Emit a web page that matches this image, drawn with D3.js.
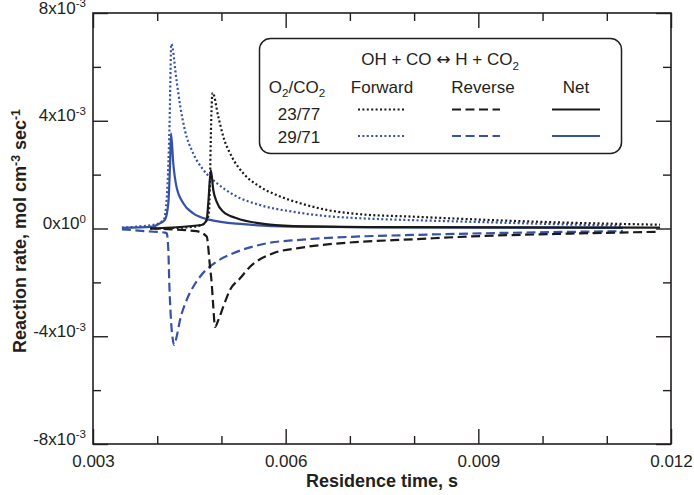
<!DOCTYPE html>
<html>
<head>
<meta charset="utf-8">
<script src="https://cdn.jsdelivr.net/npm/d3@7"></script>
<style>
  body { margin: 0; background: #fff; }
  svg text { font-family: Arial, "Liberation Sans", Helvetica, sans-serif; fill: #231f20; }
</style>
</head>
<body>
<svg id="chart" width="694" height="495"></svg>
<script>
// Residence time (s) and reaction rate (x10^-3 mol cm^-3 sec^-1)

// O2/CO2 = 23/77 (black)
var time23Fwd = [0.00389, 0.00451, 0.00469, 0.00477, 0.004805, 0.004822, 0.004837, 0.004862, 0.004951, 0.005029, 0.00516, 0.00534, 0.00560, 0.00586, 0.006223, 0.006639, 0.007158, 0.00798, 0.00903, 0.01007, 0.01183];
var rate23Fwd = [0.0, 0.05, 0.13, 0.3, 0.6, 1.8, 3.66, 5.04, 4.15, 3.41, 2.67, 2.05, 1.55, 1.24, 0.94, 0.69, 0.53, 0.44, 0.33, 0.24, 0.14];

var time23Rev = [0.00389, 0.00461, 0.00477, 0.004822, 0.004848, 0.004873, 0.00490, 0.004951, 0.005029, 0.005133, 0.00529, 0.005445, 0.005807, 0.006223, 0.006737, 0.00700, 0.00798, 0.00903, 0.01007, 0.01183];
var rate23Rev = [0.0, -0.1, -0.3, -1.42, -2.03, -2.9, -3.65, -3.4, -2.9, -2.28, -1.85, -1.42, -0.92, -0.72, -0.57, -0.52, -0.40, -0.28, -0.21, -0.12];

var time23Net = [0.00389, 0.00469, 0.00477, 0.004795, 0.004835, 0.004873, 0.004926, 0.005029, 0.005238, 0.00560, 0.00612, 0.00778, 0.01183];
var rate23Net = [0.0, 0.13, 0.32, 0.94, 2.17, 1.43, 0.99, 0.62, 0.38, 0.19, 0.09, 0.05, 0.03];

// O2/CO2 = 29/71 (blue)
var time29Fwd = [0.00345, 0.00373, 0.00397, 0.00410, 0.00415, 0.00419, 0.00422, 0.00430, 0.00436, 0.00443, 0.00456, 0.00472, 0.00493, 0.00519, 0.00560, 0.00612, 0.00664, 0.00716, 0.00798, 0.00903, 0.01007, 0.01125];
var rate29Fwd = [0.03, 0.08, 0.15, 0.32, 1.18, 3.66, 6.85, 5.51, 4.52, 3.66, 2.79, 2.17, 1.68, 1.25, 0.87, 0.62, 0.46, 0.38, 0.31, 0.24, 0.17, 0.10];

var time29Rev = [0.00345, 0.00394, 0.00412, 0.004148, 0.004173, 0.004188, 0.00421, 0.004241, 0.004261, 0.004303, 0.004355, 0.004459, 0.004562, 0.004666, 0.004926, 0.005185, 0.005705, 0.006223, 0.00700, 0.00798, 0.00903, 0.01058, 0.01125];
var rate29Rev = [-0.03, -0.12, -0.15, -0.18, -0.8, -2.03, -3.23, -4.1, -4.32, -4.01, -3.4, -2.65, -2.16, -1.79, -1.23, -0.92, -0.55, -0.42, -0.31, -0.24, -0.18, -0.12, -0.10];

var time29Net = [0.00345, 0.00393, 0.00404, 0.00412, 0.004173, 0.00420, 0.004215, 0.00425, 0.00430, 0.004406, 0.004562, 0.004822, 0.00534, 0.00612, 0.00778, 0.01125];
var rate29Net = [0.02, 0.07, 0.19, 0.32, 0.94, 2.42, 3.53, 2.42, 1.55, 0.94, 0.56, 0.32, 0.16, 0.07, 0.04, 0.02];

// ticks
var xTicks = [0.003, 0.006, 0.009, 0.012];
var xMinorTicks = [0.004, 0.005, 0.007, 0.008, 0.010, 0.011];
var yTicks = [-8, -4, 0, 4, 8];
var yMinorTicks = [-6, -2, 2, 6];

var black = "#1a1a1a";
var blue = "#3651a8";
var dotted = "2,2.4";
var dashed = "9,4.5";

var series = [
  { t: time29Fwd, r: rate29Fwd, color: blue, dash: dotted },
  { t: time29Rev, r: rate29Rev, color: blue, dash: dashed },
  { t: time29Net, r: rate29Net, color: blue, dash: null },
  { t: time23Fwd, r: rate23Fwd, color: black, dash: dotted },
  { t: time23Rev, r: rate23Rev, color: black, dash: dashed },
  { t: time23Net, r: rate23Net, color: black, dash: null }
];

var plotLeft = 93, plotRight = 671, plotTop = 13, plotBottom = 444;

var svg = d3.select("#chart");

var x = d3.scaleLinear().domain([0.003, 0.012]).range([plotLeft, plotRight]);
var y = d3.scaleLinear().domain([-8, 8]).range([plotBottom, plotTop]);

// writes text made of normal / superscript / subscript parts
function richText(sel, parts, size) {
  var prev = 0;
  parts.forEach(function(p) {
    var off = p[1] === "sup" ? -0.36 * size : (p[1] === "sub" ? 0.28 * size : 0);
    var ts = sel.append("tspan")
      .attr("dy", off - prev)
      .style("font-size", p[1] === "sup" || p[1] === "sub" ? (0.68 * size) + "px" : null)
      .text(p[0]);
    if (p[1] === "sym") ts.style("font-family", "'DejaVu Sans', sans-serif");
    prev = off;
  });
}

// curves
var line = d3.line()
  .x(function(d) { return x(d[0]); })
  .y(function(d) { return y(d[1]); })
  .curve(d3.curveMonotoneX);

series.forEach(function(s) {
  svg.append("path")
    .datum(d3.zip(s.t, s.r))
    .attr("fill", "none")
    .attr("stroke", s.color)
    .attr("stroke-width", 2.2)
    .attr("stroke-dasharray", s.dash)
    .attr("d", line);
});

// axes, all ticks pointing inward
function tickAxis(axis, scale, vals, size, tx, ty) {
  var g = svg.append("g")
    .attr("transform", "translate(" + tx + "," + ty + ")")
    .call(axis(scale).tickValues(vals).tickSizeInner(-size).tickSizeOuter(0).tickFormat(""));
  g.select(".domain").remove();
  g.selectAll("line").attr("stroke", "#231f20").attr("stroke-width", 1.4);
  return g;
}

tickAxis(d3.axisBottom, x, xMinorTicks, 8, 0, plotBottom);
tickAxis(d3.axisTop, x, xMinorTicks, 8, 0, plotTop);
tickAxis(d3.axisTop, x, xTicks, 15, 0, plotTop);
tickAxis(d3.axisLeft, y, yMinorTicks, 8, plotLeft, 0);
tickAxis(d3.axisRight, y, yMinorTicks, 8, plotRight, 0);
tickAxis(d3.axisRight, y, yTicks, 15, plotRight, 0);

var xAxis = svg.append("g")
  .attr("transform", "translate(0," + plotBottom + ")")
  .call(d3.axisBottom(x).tickValues(xTicks).tickSizeInner(-15).tickSizeOuter(0)
    .tickPadding(11).tickFormat(d3.format(".3f")));
xAxis.select(".domain").remove();
xAxis.selectAll("line").attr("stroke", "#231f20").attr("stroke-width", 1.4);
xAxis.selectAll("text").style("font-size", "17px").attr("fill", "#231f20");

var yAxis = svg.append("g")
  .attr("transform", "translate(" + plotLeft + ",0)")
  .call(d3.axisLeft(y).tickValues(yTicks).tickSizeInner(-15).tickSizeOuter(0)
    .tickPadding(7).tickFormat(""));
yAxis.select(".domain").remove();
yAxis.selectAll("line").attr("stroke", "#231f20").attr("stroke-width", 1.4);
yAxis.selectAll(".tick text")
  .style("font-size", "17px")
  .attr("fill", "#231f20")
  .each(function(d) {
    var t = d3.select(this).text(null);
    richText(t, [[d + "x10", null], [d === 0 ? "0" : "-3", "sup"]], 17);
  });

// frame
svg.append("rect")
  .attr("x", plotLeft).attr("y", plotTop)
  .attr("width", plotRight - plotLeft).attr("height", plotBottom - plotTop)
  .attr("fill", "none")
  .attr("stroke", "#231f20")
  .attr("stroke-width", 1.6);

// axis titles
svg.append("text")
  .attr("x", (plotLeft + plotRight) / 2)
  .attr("y", 487)
  .attr("text-anchor", "middle")
  .style("font-size", "18px")
  .style("font-weight", "bold")
  .text("Residence time, s");

var yTitle = svg.append("text")
  .attr("transform", "translate(26,231) rotate(-90)")
  .attr("text-anchor", "middle")
  .style("font-size", "18px")
  .style("font-weight", "bold");
richText(yTitle, [["Reaction rate, mol cm", null], ["-3", "sup"], [" sec", null], ["-1", "sup"]], 18);

// legend
var legend = svg.append("g");
legend.append("rect")
  .attr("x", 259.5).attr("y", 38.5)
  .attr("width", 362).attr("height", 115)
  .attr("rx", 11)
  .attr("fill", "#fff")
  .attr("stroke", "#231f20")
  .attr("stroke-width", 1.5);

function legendText(cx, by, parts) {
  var t = legend.append("text")
    .attr("x", cx).attr("y", by)
    .attr("text-anchor", "middle")
    .style("font-size", "17px");
  richText(t, parts, 17);
}

legendText(440, 65, [["OH + CO ", null], ["\u2194", "sym"], [" H + CO", null], ["2", "sub"]]);
legendText(297, 92.5, [["O", null], ["2", "sub"], ["/CO", null], ["2", "sub"]]);
legendText(382, 92.5, [["Forward", null]]);
legendText(483, 92.5, [["Reverse", null]]);
legendText(576, 92.5, [["Net", null]]);
legendText(299, 119.5, [["23/77", null]]);
legendText(299, 142.5, [["29/71", null]]);

var legendRows = [
  { y: 109.5, color: black },
  { y: 136, color: blue }
];
var legendCols = [
  { x0: 358, x1: 405, dash: dotted },
  { x0: 452, x1: 500, dash: dashed },
  { x0: 552, x1: 600, dash: null }
];
legendRows.forEach(function(row) {
  legendCols.forEach(function(col) {
    legend.append("line")
      .attr("x1", col.x0).attr("x2", col.x1)
      .attr("y1", row.y).attr("y2", row.y)
      .attr("stroke", row.color)
      .attr("stroke-width", 2.2)
      .attr("stroke-dasharray", col.dash);
  });
});
</script>
</body>
</html>
